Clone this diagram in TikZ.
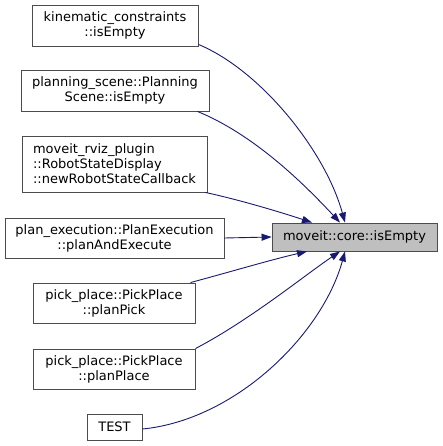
\documentclass[tikz,border=0pt]{standalone}
\usepackage{fontspec}
\setmainfont{DejaVu Sans}
\usetikzlibrary{arrows.meta}
\definecolor{edgeblue}{HTML}{191970}

\tikzset{
	fn/.style={draw=black!70, fill=white, line width=0.9pt, inner sep=2pt, align=center, font=\fontsize{13}{15}\selectfont},
	cur/.style={fn, fill=black!25},
	call/.style={draw=edgeblue, line width=0.9pt, -{Triangle[length=10pt, width=7pt]}}
}

\begin{document}
\begin{tikzpicture}[x=1pt, y=-1pt]
		\useasboundingbox (0, 0) rectangle (443, 446);

		% callee
		\node[cur, minimum width=165pt, minimum height=28pt] (core) at (354.5, 237) {moveit::core::isEmpty};

		% callers
		\node[fn, minimum width=166pt, minimum height=41pt] (kc) at (115, 25.5) {kinematic\_constraints\\::isEmpty};
		\node[fn, minimum width=188pt, minimum height=41pt] (ps) at (115, 90.5) {planning\_scene::Planning\\Scene::isEmpty};
		\node[fn, minimum width=185pt, minimum height=56pt, align=left] (rviz) at (114.5, 164) {moveit\_rviz\_plugin\\::RobotStateDisplay\\::newRobotStateCallback};
		\node[fn, minimum width=219pt, minimum height=40pt] (pe) at (114.5, 238) {plan\_execution::PlanExecution\\::planAndExecute};
		\node[fn, minimum width=162pt, minimum height=40pt] (pick) at (114, 303) {pick\_place::PickPlace\\::planPick};
		\node[fn, minimum width=162pt, minimum height=40pt] (place) at (114, 369) {pick\_place::PickPlace\\::planPlace};
		\node[fn, minimum width=55pt, minimum height=26pt] (test) at (114.5, 427) {TEST};

		% edges
		\draw[call] ([yshift=2pt]kc.south east) .. controls (260, 70) and (325, 150) .. ([xshift=-9.5pt]core.north);
		\draw[call] ([xshift=-12pt]ps.south east) .. controls (255, 135) and (305, 185) .. ([xshift=-14.5pt]core.north);
		\draw[call] ([xshift=-2pt]rviz.south east) .. controls (240, 200) and (280, 212) .. ([xshift=-42.5pt]core.north);
		\draw[call] (pe.east) -- (core.west);
		\draw[call] ([xshift=-5pt]pick.north east) .. controls (230, 272) and (270, 260) .. ([xshift=-47.5pt]core.south);
		\draw[call] (place.north east) .. controls (250, 320) and (305, 275) .. ([xshift=-14.5pt]core.south);
		\draw[call] ([yshift=-2pt]test.east) .. controls (235, 420) and (322, 335) .. ([xshift=-9.5pt]core.south);
\end{tikzpicture}
\end{document}
